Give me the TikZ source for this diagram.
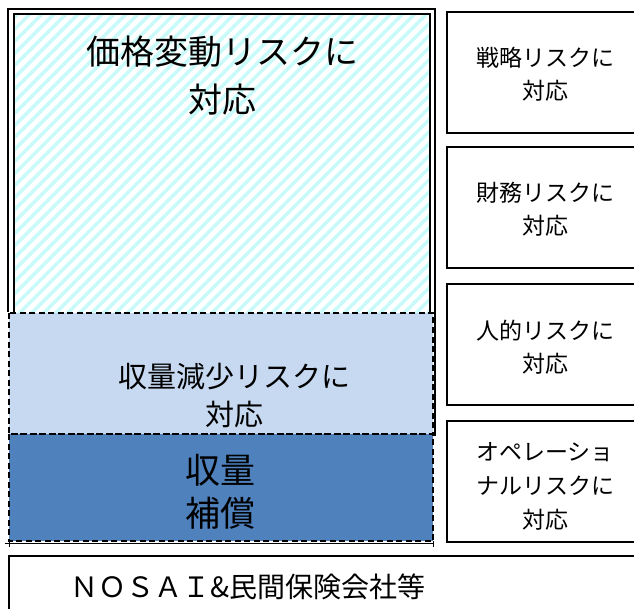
\documentclass[tikz,border=0pt]{standalone}
\usepackage{fontspec}
\newfontfamily\cjk{Noto Sans CJK JP}
\usetikzlibrary{patterns.meta}
\definecolor{hatchc}{HTML}{C8FAFA}
\definecolor{lightb}{HTML}{C6D9F1}
\definecolor{darkb}{HTML}{4F81BD}
\tikzset{
  rbox/.style={draw=black, line width=1.5pt},
  dbox/.style={draw=black, line width=1.3pt, dash pattern=on 6pt off 3.5pt},
  lbl/.style={align=center, inner sep=0pt, font=\cjk},
}
\begin{document}
\begin{tikzpicture}[x=1pt,y=-1pt]
\useasboundingbox (0,0) rectangle (634,609);
\clip (0,0) rectangle (634,609);
\fill[white] (0,0) rectangle (634,609);
% hatched price-risk area
\fill[pattern={Lines[angle=45,distance=8.5pt,line width=3.5pt]}, pattern color=hatchc] (14,14) rectangle (430,313);
% yield-decrease and compensation areas
\fill[lightb] (9,313) rectangle (433,434);
\fill[darkb] (9,434) rectangle (433,541);
\draw[dbox] (9,313) rectangle (433,434);
\draw[dbox] (9,434) rectangle (433,541);
% inner and outer frames
\draw[line width=1.5pt] (14,313) -- (14,14) -- (430,14) -- (430,313);
\draw[line width=2pt] (8,312) -- (8,9) -- (435,9) -- (435,436);
% base line with ticks
\draw[line width=0.6pt] (5,543) -- (433,543);
\draw[line width=0.6pt] (9,541) -- (9,547);
\draw[line width=0.6pt] (433,541) -- (433,547);
% NOSAI box
\draw[rbox] (660,556) -- (9,556) -- (9,620);
% right boxes
\draw[rbox] (660,12) -- (447,12) -- (447,133) -- (660,133);
\draw[rbox] (660,147) -- (447,147) -- (447,268) -- (660,268);
\draw[rbox] (660,284) -- (447,284) -- (447,405) -- (660,405);
\draw[rbox] (660,421) -- (447,421) -- (447,542) -- (660,542);
% labels
\node[lbl, font=\cjk\fontsize{34}{48}\selectfont] (price) at (222,76) {価格変動リスクに\\対応};
\node[lbl, font=\cjk\fontsize{29}{38}\selectfont] (yieldrisk) at (234,395) {収量減少リスクに\\対応};
\node[lbl, font=\cjk\fontsize{35}{43}\selectfont] (comp) at (220,492) {収量\\補償};
\node[lbl, font=\cjk\fontsize{23}{33}\selectfont] (strat) at (545,74) {戦略リスクに\\対応};
\node[lbl, font=\cjk\fontsize{23}{33}\selectfont] (fin) at (545,209) {財務リスクに\\対応};
\node[lbl, font=\cjk\fontsize{23}{33}\selectfont] (hum) at (545,347) {人的リスクに\\対応};
\node[lbl, font=\cjk\fontsize{23}{34}\selectfont] (ops) at (545,486) {オペレーショ\\ナルリスクに\\対応};
\node[lbl, font=\cjk\fontsize{28}{34}\selectfont] (nosai) at (248,587) {ＮＯＳＡＩ\&民間保険会社等};
\end{tikzpicture}
\end{document}
